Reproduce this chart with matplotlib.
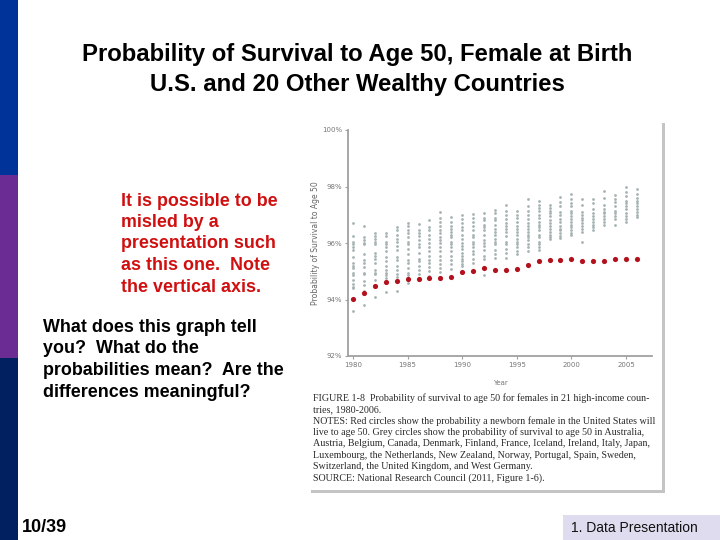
import matplotlib.pyplot as plt
from matplotlib.patches import Rectangle

# --- data ---
years = list(range(1980, 2007))

us_values = [94.01, 94.22, 94.47, 94.61, 94.65, 94.73, 94.74, 94.77, 94.76, 94.81,
             94.98, 95.01, 95.11, 95.03, 95.04, 95.07, 95.21, 95.36, 95.41, 95.41,
             95.43, 95.38, 95.36, 95.37, 95.43, 95.43, 95.44]

other_values = [
    [96.72, 96.25, 96.05, 95.95, 95.85, 95.75, 95.5, 95.3, 95.2, 95.12, 94.95, 94.85, 94.7, 94.55, 94.45, 94.4, 93.58],
    [96.6, 96.2, 96.1, 96.0, 95.95, 95.6, 95.4, 95.3, 95.15, 94.95, 94.9, 94.65, 94.5, 94.3, 93.8],
    [96.35, 96.25, 96.15, 96.05, 95.95, 95.65, 95.55, 95.45, 95.3, 95.05, 94.95, 94.9, 94.7, 94.09],
    [96.35, 96.25, 96.05, 95.95, 95.85, 95.7, 95.5, 95.35, 95.2, 95.05, 94.95, 94.85, 94.75, 94.28],
    [96.56, 96.45, 96.3, 96.15, 96.05, 95.9, 95.75, 95.5, 95.4, 95.2, 95.05, 94.9, 94.8, 94.29],
    [96.72, 96.6, 96.45, 96.35, 96.2, 96.05, 95.95, 95.8, 95.6, 95.4, 95.3, 95.1, 94.95, 94.85, 94.7, 94.58],
    [96.67, 96.45, 96.35, 96.25, 96.1, 95.95, 95.85, 95.65, 95.45, 95.35, 95.2, 95.05, 94.9, 94.68],
    [96.82, 96.55, 96.45, 96.3, 96.15, 96.0, 95.85, 95.7, 95.55, 95.4, 95.3, 95.15, 95.0, 94.82],
    [97.1, 96.9, 96.75, 96.6, 96.45, 96.35, 96.2, 96.1, 96.0, 95.85, 95.7, 95.55, 95.4, 95.25, 95.1, 94.99],
    [96.93, 96.75, 96.6, 96.5, 96.4, 96.3, 96.2, 96.05, 95.95, 95.85, 95.7, 95.55, 95.4, 95.25, 95.09],
    [97.0, 96.85, 96.7, 96.55, 96.45, 96.3, 96.15, 96.0, 95.9, 95.8, 95.65, 95.55, 95.45, 95.35, 95.25, 95.17],
    [97.03, 96.9, 96.75, 96.6, 96.45, 96.3, 96.2, 96.05, 95.95, 95.85, 95.7, 95.6, 95.45, 95.28],
    [97.07, 96.9, 96.8, 96.65, 96.55, 96.45, 96.3, 96.1, 96.0, 95.9, 95.75, 95.55, 95.45, 94.87],
    [97.18, 97.05, 96.9, 96.8, 96.65, 96.5, 96.4, 96.3, 96.15, 96.05, 95.95, 95.75, 95.6, 95.48],
    [97.34, 97.15, 97.0, 96.85, 96.7, 96.6, 96.5, 96.4, 96.25, 96.05, 95.95, 95.8, 95.65, 95.46],
    [97.15, 97.0, 96.9, 96.75, 96.6, 96.5, 96.4, 96.3, 96.15, 96.05, 95.95, 95.85, 95.7, 95.6],
    [97.57, 97.3, 97.15, 97.0, 96.85, 96.7, 96.6, 96.5, 96.4, 96.3, 96.2, 96.1, 95.95, 95.85, 95.7, 95.23],
    [97.48, 97.35, 97.25, 97.15, 97.0, 96.9, 96.75, 96.65, 96.55, 96.45, 96.3, 96.2, 96.05, 95.95, 95.85, 95.75],
    [97.36, 97.25, 97.15, 97.05, 96.95, 96.8, 96.7, 96.6, 96.5, 96.4, 96.3, 96.2, 96.13],
    [97.63, 97.45, 97.3, 97.1, 97.0, 96.85, 96.75, 96.6, 96.5, 96.45, 96.35, 96.25, 96.19],
    [97.72, 97.55, 97.4, 97.3, 97.15, 97.05, 96.95, 96.85, 96.75, 96.65, 96.55, 96.45, 96.35, 96.28],
    [97.54, 97.35, 97.1, 97.0, 96.9, 96.8, 96.7, 96.6, 96.5, 96.4, 96.05],
    [97.55, 97.4, 97.2, 97.05, 96.95, 96.85, 96.75, 96.65, 96.55, 96.45],
    [97.83, 97.6, 97.35, 97.2, 97.1, 97.05, 96.95, 96.85, 96.75, 96.63],
    [97.69, 97.55, 97.45, 97.3, 97.15, 97.05, 96.95, 96.85, 96.63],
    [97.98, 97.8, 97.65, 97.5, 97.4, 97.3, 97.2, 97.05, 96.95, 96.85, 96.75],
    [97.9, 97.75, 97.6, 97.5, 97.4, 97.3, 97.2, 97.1, 97.0, 96.93],
]

y_ticks = [92, 94, 96, 98, 100]
x_ticks = [1980, 1985, 1990, 1995, 2000, 2005]

title_lines = ["Probability of Survival to Age 50, Female at Birth",
               "U.S. and 20 Other Wealthy Countries"]
red_lines = ["It is possible to be", "misled by a", "presentation such",
             "as this one.  Note", "the vertical axis."]
question_lines = ["What does this graph tell", "you?  What do the",
                  "probabilities mean?  Are the", "differences meaningful?"]
caption_lines = [
    "FIGURE 1-8  Probability of survival to age 50 for females in 21 high-income coun-",
    "tries, 1980-2006.",
    "NOTES: Red circles show the probability a newborn female in the United States will",
    "live to age 50. Grey circles show the probability of survival to age 50 in Australia,",
    "Austria, Belgium, Canada, Denmark, Finland, France, Iceland, Ireland, Italy, Japan,",
    "Luxembourg, the Netherlands, New Zealand, Norway, Portugal, Spain, Sweden,",
    "Switzerland, the United Kingdom, and West Germany.",
    "SOURCE: National Research Council (2011, Figure 1-6).",
]

W, H = 720, 540
fig = plt.figure(figsize=(7.2, 5.4), dpi=100)
fig.patch.set_facecolor("white")


def fx(x):
    return x / W


def fy(y):
    return 1 - y / H


def box(x0, y0, x1, y1, color, z=0):
    fig.patches.append(Rectangle((fx(x0), fy(y1)), fx(x1 - x0), (y1 - y0) / H,
                                 transform=fig.transFigure, facecolor=color,
                                 edgecolor="none", zorder=z))


# left side bar of the slide
box(0, 0, 18, 175, "#003399")
box(0, 175, 18, 358, "#6b2c93")
box(0, 358, 18, 540, "#002060")

# footer box
box(563, 515, 720, 540, "#e0dcef")
fig.text(fx(571), fy(528), "1. Data Presentation", fontsize=10,
         family="Liberation Sans", va="center", ha="left", color="#111111")
fig.text(fx(22), fy(527), "10/39", fontsize=13, family="Liberation Sans",
         weight="bold", va="center", ha="left")

# title
for i, line in enumerate(title_lines):
    fig.text(fx(357), fy(55 + 29 * i), line, fontsize=17.2, family="Liberation Sans",
             weight="bold", ha="center", va="center")

for i, line in enumerate(red_lines):
    fig.text(fx(121), fy(201 + 21.5 * i), line, fontsize=12.9, family="Liberation Sans",
             weight="bold", color="#d01010", ha="left", va="center")

for i, line in enumerate(question_lines):
    fig.text(fx(43), fy(327 + 21.7 * i), line, fontsize=12.9, family="Liberation Sans",
             weight="bold", color="black", ha="left", va="center")

# pasted figure: shadow and white card
box(311, 123, 665, 493, "#c4c4c4", z=-2)
box(308, 120, 662, 490, "white", z=-1)

ax = fig.add_axes([fx(348), fy(356), fx(652 - 348), (356 - 130) / H])
ax.set_zorder(2)
ax.set_facecolor("none")
for i, yr in enumerate(years):
    vals = other_values[i]
    ax.scatter([yr] * len(vals), vals, s=4, color="#a6b2b3", linewidths=0, zorder=2)
ax.scatter(years, us_values, s=14, color="#b3111e", linewidths=0, zorder=3)

ax.set_xlim(1979.54, 2007.38)
ax.set_ylim(92, 100)
ax.set_yticks(y_ticks)
ax.set_yticklabels([f"{t}%" for t in y_ticks])
ax.set_xticks(x_ticks)
for s in ["top", "right"]:
    ax.spines[s].set_visible(False)
for s in ["left", "bottom"]:
    ax.spines[s].set_color("#a0a0a0")
    ax.spines[s].set_linewidth(1.3)
ax.tick_params(labelsize=5, colors="#a0a0a0", length=2, width=0.8, pad=2,
               labelcolor="#777777")
ax.set_ylabel("Probability of Survival to Age 50", fontsize=5.5, color="#666666",
              labelpad=1.5)
ax.set_xlabel("Year", fontsize=5, color="#777777", labelpad=9)

for i, line in enumerate(caption_lines):
    fig.text(fx(313), fy(398 + 11.4 * i), line, fontsize=7.2, family="Liberation Serif",
             color="#2a2a2a", ha="left", va="center", zorder=3)

fig.savefig("out.png", dpi=100)
